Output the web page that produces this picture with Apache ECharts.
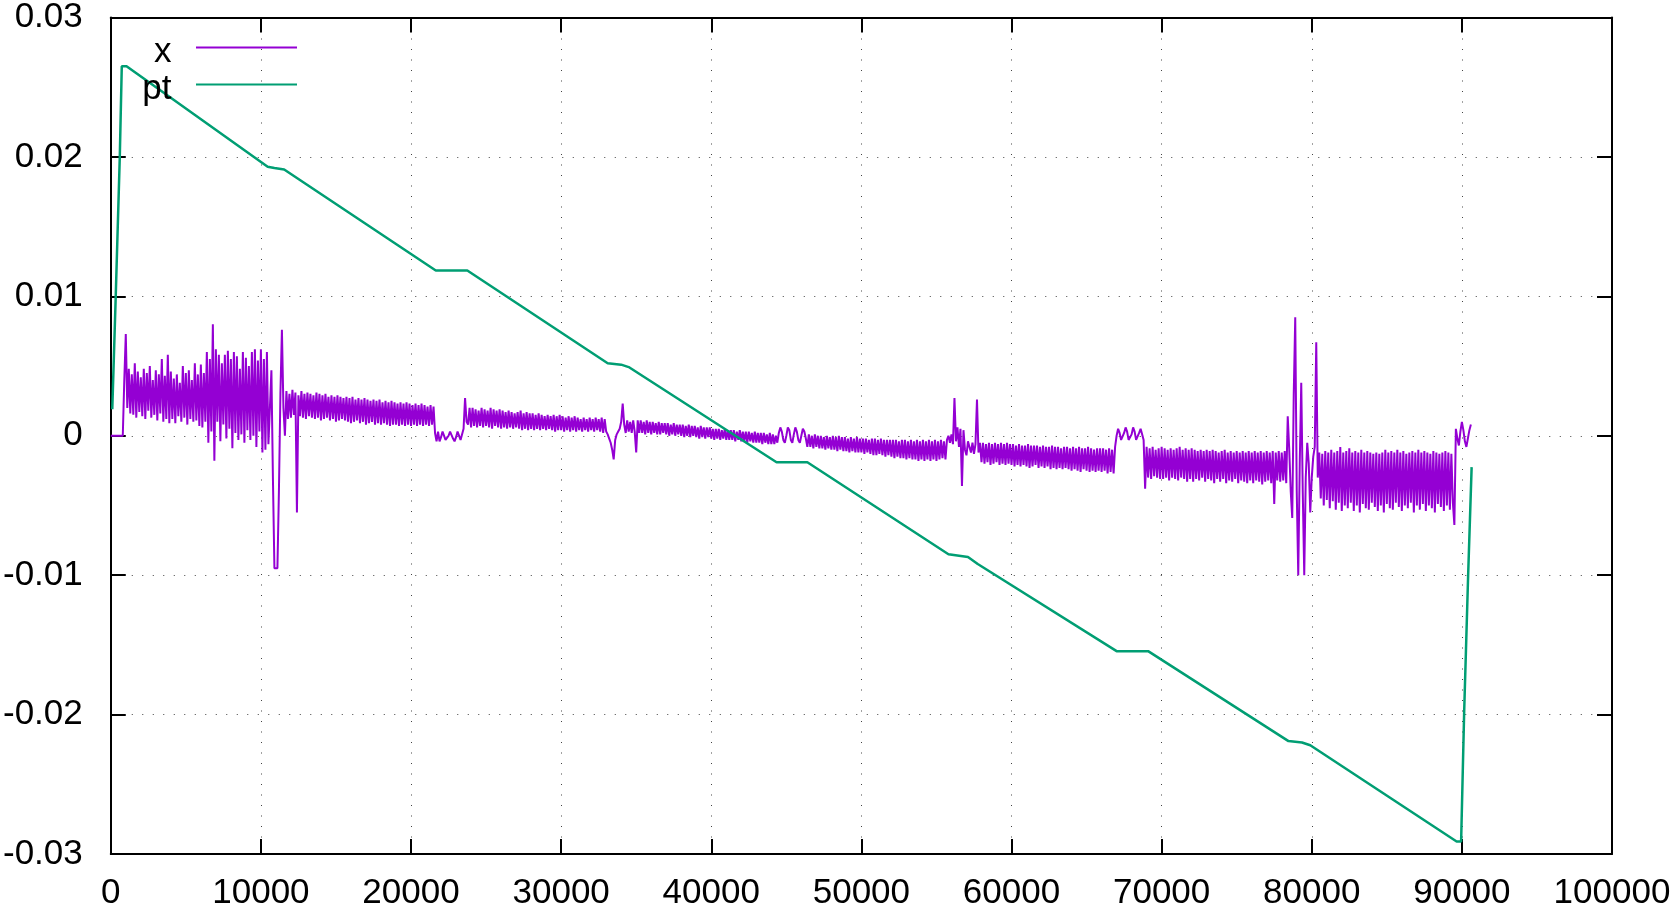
<!DOCTYPE html>
<html>
<head>
<meta charset="utf-8">
<title>x / pt</title>
<script src="https://cdn.jsdelivr.net/npm/echarts@6/dist/echarts.min.js"></script>
<style>
  html, body { margin: 0; padding: 0; background: #fff; }
  #chart { width: 1677px; height: 911px; }
</style>
</head>
<body>
<div id="chart"></div>
<script>
// x signal, one value every xStep (units of 1e-4)
var xStep = 100;
var xSignalE4 = [
  0, 0, 0, 0, 0, 0, 0, 0, 0, 40, 73, 20, 48, 16, 44, 15, 52, 13, 46, 17,                       // 0
  42, 14, 48, 12, 45, 18, 50, 13, 40, 15, 47, 11, 44, 16, 55, 10, 43, 12, 58, 9,                // 2000
  46, 12, 41, 9, 44, 14, 38, 10, 50, 13, 45, 8, 47, 12, 40, 10, 52, 11, 44, 7,                  // 4000
  51, 6, 45, 10, 60, -5, 55, 3, 80, -18, 62, 10, 58, -4, 52, 8, 58, -2, 61, 5,                  // 6000
  55, -9, 60, 2, 57, -3, 48, 1, 60, -5, 56, 4, 50, -3, 60, 0, 62, -8, 54, 3,                    // 8000
  62, -12, 55, -10, 60, -6, 20, 47, -30, -95, -95, -95, -40, 30, 76, 20, 0, 32, 12, 30,         // 10000
  13, 33, 15, 31, -55, 29, 14, 32, 13, 30, 12, 31, 14, 30, 13, 29, 12, 31, 13, 30,              // 12000
  11, 29, 12, 30, 13, 28, 11, 29, 12, 28, 10, 29, 11, 28, 12, 27, 11, 28, 10, 27,               // 14000
  9, 28, 10, 26, 11, 27, 9, 26, 10, 27, 8, 26, 9, 25, 10, 26, 8, 25, 9, 26,                     // 16000
  8, 24, 9, 25, 8, 24, 7, 25, 8, 24, 8, 23, 7, 24, 8, 23, 7, 24, 8, 23,                         // 18000
  7, 22, 8, 23, 7, 22, 8, 23, 7, 22, 8, 21, 7, 22, 8, 21, 2, -4, 3, -4,                         // 20000
  -1, 3, 2, -3, -4, 0, 3, 2, -2, -4, -1, 3, 2, -3, -3, 5, 27, 10, 8, 20,                        // 22000
  6, 20, 7, 19, 6, 18, 7, 20, 6, 19, 7, 18, 6, 20, 5, 19, 7, 18, 6, 19,                         // 24000
  5, 18, 6, 17, 5, 18, 6, 17, 5, 16, 6, 17, 5, 18, 4, 16, 5, 17, 4, 16,                         // 26000
  5, 16, 4, 15, 5, 16, 4, 15, 5, 14, 4, 15, 5, 14, 4, 15, 3, 14, 4, 15,                         // 28000
  4, 14, 3, 13, 4, 14, 3, 13, 4, 14, 3, 13, 4, 12, 3, 13, 4, 12, 3, 13,                         // 30000
  4, 12, 3, 13, 4, 12, 3, 13, 2, 12, 3, 1, -2, -5, -10, -17, -3, 1, 3, 5,                       // 32000
  10, 23, 8, 2, 11, 3, 10, 2, 11, 3, -12, 11, 2, 11, 2, 10, 1, 11, 2, 10,                       // 34000
  1, 10, 2, 9, 1, 10, 1, 9, 2, 9, 1, 9, 0, 8, 1, 9, 0, 8, 1, 8,                                 // 36000
  0, 8, -1, 7, 0, 8, -1, 7, 0, 7, -1, 6, -2, 7, -1, 6, -2, 6, -1, 6,                            // 38000
  -2, 5, -3, 5, -2, 5, -3, 4, -2, 5, -3, 4, -3, 4, -3, 4, -4, 3, -3, 4,                         // 40000
  -4, 3, -4, 3, -5, 3, -4, 2, -5, 3, -5, 2, -5, 2, -6, 2, -5, 1, -6, 2,                         // 42000
  -6, 1, -6, 0, -5, 2, 6, 3, -3, -5, 0, 6, 4, -3, -5, 1, 6, 3, -3, -5,                          // 44000
  0, 5, 3, -2, -8, 1, -8, 0, -9, 1, -8, 0, -9, 0, -9, -1, -10, 0, -9, -1,                       // 46000
  -10, 0, -10, -1, -11, 0, -10, -1, -11, -1, -11, -2, -12, -1, -11, -2, -12, -1, -12, -2,       // 48000
  -12, -2, -13, -2, -12, -3, -13, -2, -14, -2, -14, -3, -13, -2, -14, -3, -15, -3, -14, -3,     // 50000
  -15, -3, -16, -3, -15, -4, -16, -3, -16, -3, -17, -4, -16, -3, -17, -4, -17, -3, -18, -4,     // 52000
  -17, -3, -18, -4, -17, -3, -18, -4, -17, -3, -18, -4, -17, -3, -16, -4, -17, -3, 0, -5,       // 54000
  1, -6, 27, -4, 6, -8, 5, -36, 4, -10, -14, -4, -8, -12, -5, -13, -6, 26, -12, -5,             // 56000
  -19, -5, -20, -6, -19, -5, -21, -6, -20, -5, -19, -6, -21, -5, -20, -6, -21, -5, -20, -6,     // 58000
  -21, -6, -22, -7, -21, -6, -22, -7, -21, -7, -22, -6, -23, -7, -22, -7, -21, -7, -23, -8,     // 60000
  -22, -7, -23, -8, -22, -8, -24, -7, -23, -8, -24, -8, -23, -9, -24, -8, -23, -8, -24, -9,     // 62000
  -25, -8, -24, -9, -25, -8, -26, -9, -24, -9, -25, -8, -26, -9, -25, -10, -26, -9, -25, -9,    // 64000
  -26, -9, -25, -10, -27, -9, -26, -10, -27, -8, 0, 5, 2, -3, -4, 2, 6, 3, -3, -4,              // 66000
  1, 6, 3, -3, -4, 2, 5, 1, -3, -38, -8, -30, -9, -31, -8, -29, -10, -30, -9, -31,              // 68000
  -8, -31, -9, -30, -10, -32, -9, -30, -10, -31, -9, -32, -8, -30, -10, -31, -9, -33, -10, -31, // 70000
  -9, -33, -10, -31, -11, -32, -10, -30, -11, -33, -10, -31, -11, -32, -10, -34, -11, -31, -12, -33, // 72000
  -11, -31, -10, -34, -12, -32, -11, -33, -12, -31, -11, -34, -12, -32, -11, -33, -12, -34, -11, -32, // 74000
  -12, -34, -11, -32, -12, -33, -11, -35, -12, -33, -11, -32, -12, -34, -11, -49, -12, -32, -11, -33, // 76000
  -12, -32, -11, -34, 14, -10, -40, -59, 30, 85, -40, -100, -20, 38, -40, -100, -30, -5, -20, -55,    // 78000
  -30, -15, -8, 67, -30, -12, -45, -13, -50, -11, -46, -12, -52, -10, -47, -12, -53, -11, -48, -8,    // 80000
  -54, -12, -50, -11, -52, -9, -48, -12, -54, -11, -50, -12, -55, -10, -49, -12, -52, -11, -53, -12,  // 82000
  -48, -13, -51, -12, -54, -13, -50, -12, -55, -10, -49, -12, -52, -11, -53, -12, -48, -10, -51, -12, // 84000
  -54, -11, -50, -13, -52, -12, -48, -11, -55, -12, -50, -10, -53, -12, -49, -11, -54, -12, -50, -13, // 86000
  -52, -11, -55, -12, -49, -13, -51, -12, -54, -11, -50, -12, -53, -13, -48, -64, 5, -2, -7, 3,       // 88000
  10, 4, -4, -8, -2, 4, 8                                                                             // 90000
];

// pt: knees of the piecewise line
var ptX = [100, 330, 600, 733, 1050, 10450, 10900, 11550, 21650, 23750,
  33100, 34000, 34550, 44350, 46400, 55800, 57100, 57750, 67000, 69100,
  78450, 79350, 79900, 89650, 89950, 90150, 90420, 90650];
var ptY = [0.0019, 0.010, 0.020, 0.0265, 0.0265, 0.0193, 0.0192, 0.0191, 0.01185, 0.01185,
  0.0052, 0.0051, 0.0049, -0.0019, -0.0019, -0.0085, -0.0087, -0.0092, -0.01545, -0.01545,
  -0.0219, -0.0220, -0.0222, -0.0291, -0.0291, -0.0199, -0.0099, -0.00225];

var xTicks = { min: 0, max: 100000, interval: 10000 };
var yTicks = { min: -0.03, max: 0.03, interval: 0.01 };

var FONT = "'Liberation Sans', Arial, sans-serif";
var FS = 35;

var xData = xSignalE4.map(function (v, i) { return [i * xStep, v * 1e-4]; });
var ptData = ptX.map(function (x, i) { return [x, ptY[i]]; });

var chart = echarts.init(document.getElementById("chart"));

function frameAxis(extra) {
  var base = {
    type: "value",
    axisLine: { show: true, onZero: false, lineStyle: { color: "#000", width: 2 } },
    axisTick: { show: true, inside: true, length: 15, lineStyle: { color: "#000", width: 2 } },
    axisLabel: { show: false },
    splitLine: { show: false }
  };
  return Object.assign(base, extra);
}

// gnuplot style key: label right-aligned, sample line to its right
function keyLegend(name, top) {
  return {
    data: [name], right: 1380, top: top, padding: 0, orient: "vertical", align: "right",
    icon: "rect", itemWidth: 101, itemHeight: 2, selectedMode: false,
    formatter: function (n) { return "{t|" + n + "  }"; },
    textStyle: {
      fontSize: FS, fontFamily: FONT, color: "#000",
      rich: { t: { fontSize: FS, fontFamily: FONT, color: "#000", padding: [9, 0, 0, 0] } }
    }
  };
}

var option = {
  animation: false,
  backgroundColor: "#fff",
  grid: { left: 110, right: 65, top: 13, bottom: 57, containLabel: false },
  legend: [keyLegend("x", 34.5), keyLegend("pt", 71.5)],
  xAxis: [
    frameAxis({
      position: "bottom", min: xTicks.min, max: xTicks.max, interval: xTicks.interval,
      axisLabel: {
        show: true, margin: 22, fontSize: FS, fontFamily: FONT, color: "#000",
        formatter: function (v) { return String(v); }
      },
      splitLine: { show: true, lineStyle: { color: "#444", width: 1, type: [1, 9.5] } }
    }),
    frameAxis({ position: "top", min: xTicks.min, max: xTicks.max, interval: xTicks.interval })
  ],
  yAxis: [
    frameAxis({
      position: "left", min: yTicks.min, max: yTicks.max, interval: yTicks.interval,
      axisLabel: {
        show: true, margin: 28, fontSize: FS, fontFamily: FONT, color: "#000",
        formatter: function (v) { return String(+v.toFixed(2)); }
      },
      splitLine: { show: true, lineStyle: { color: "#444", width: 1, type: [1, 9.5] } }
    }),
    frameAxis({ position: "right", min: yTicks.min, max: yTicks.max, interval: yTicks.interval })
  ],
  series: [
    {
      name: "x", type: "line", data: xData, showSymbol: false, symbol: "none",
      lineStyle: { color: "#9400d3", width: 2 }, itemStyle: { color: "#9400d3" }
    },
    {
      name: "pt", type: "line", data: ptData, showSymbol: false, symbol: "none",
      lineStyle: { color: "#009e73", width: 2.5 }, itemStyle: { color: "#009e73" }
    }
  ]
};

chart.setOption(option);
</script>
</body>
</html>
